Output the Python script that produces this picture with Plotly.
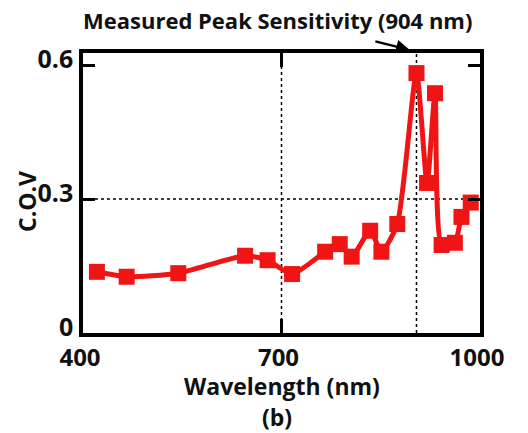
import plotly.graph_objects as go

wavelength = [421, 466, 544, 645, 679, 716, 766, 788, 806, 834, 851, 875,
              904, 920, 932, 942, 962, 972, 986]
cov = [0.137, 0.126, 0.134, 0.173, 0.163, 0.132, 0.182, 0.199, 0.171, 0.229,
       0.182, 0.244, 0.582, 0.336, 0.537, 0.197, 0.202, 0.260, 0.292]
x_ticks = [400, 700, 1000]
y_ticks = [0, 0.3, 0.6]
y_tick_text = ["0", "0.3", "0.6"]
peak_wavelength = 904
ref_wavelength = 700
ref_cov = 0.3

RED = "#f01414"
FONT = "Open Sans"

fig = go.Figure()
fig.add_trace(go.Scatter(
    x=wavelength, y=cov, mode="lines+markers",
    line=dict(color=RED, width=5, shape="spline", smoothing=0.6),
    marker=dict(symbol="square", size=16, color=RED),
    showlegend=False, cliponaxis=False,
))

# reference dashed lines
for xv in (ref_wavelength, peak_wavelength):
    fig.add_shape(type="line", xref="x", yref="paper", x0=xv, x1=xv, y0=0, y1=1,
                  line=dict(color="black", width=1.5, dash="dot"), layer="below")
fig.add_shape(type="line", xref="paper", yref="y", x0=0, x1=1, y0=ref_cov, y1=ref_cov,
              line=dict(color="black", width=1.5, dash="dot"), layer="below")

fig.update_xaxes(
    range=[400, 1000], tickvals=x_ticks, ticks="inside", ticklen=14, tickwidth=3,
    tickcolor="black", showline=True, linecolor="black", linewidth=3.5, mirror="ticks",
    showgrid=False, zeroline=False, ticklabelshift=-3, ticklabelstandoff=0,
    tickfont=dict(family=FONT, size=24, color="#111", weight="bold"),
)
fig.update_yaxes(
    range=[0, 0.627], tickvals=y_ticks, ticktext=y_tick_text, ticks="inside", ticklen=12,
    tickwidth=2.5, tickcolor="black", showline=True, linecolor="black", linewidth=3.5,
    mirror="ticks", showgrid=False, zeroline=False, ticklabelstandoff=1,
    ticklabelshift=-6,
    tickfont=dict(family=FONT, size=25, color="#111", weight="bold"),
)

def px_x(p):
    return (p - 83) / 397

def px_y(p):
    return (333 - p) / 280

fig.add_annotation(
    text="Measured Peak Sensitivity (904 nm)", xref="paper", yref="paper",
    x=px_x(277), y=px_y(20), xanchor="center", yanchor="middle", showarrow=False,
    font=dict(family=FONT, size=22, color="#111", weight="bold"),
)
fig.add_annotation(
    text="", xref="x", yref="paper", x=peak_wavelength - 10, y=px_y(50),
    showarrow=True, arrowhead=2, arrowsize=1.1, arrowwidth=2.5, arrowcolor="black",
    ax=-36, ay=-9,
)
fig.add_annotation(
    text="Wavelength (nm)", xref="paper", yref="paper",
    x=px_x(282), y=px_y(386), xanchor="center", yanchor="middle", showarrow=False,
    font=dict(family=FONT, size=23, color="#111", weight="bold"),
)
fig.add_annotation(
    text="(b)", xref="paper", yref="paper",
    x=px_x(277), y=px_y(417), xanchor="center", yanchor="middle", showarrow=False,
    font=dict(family=FONT, size=23, color="#111", weight="bold"),
)
fig.add_annotation(
    text="C.O.V", xref="paper", yref="paper", textangle=-90,
    x=px_x(27), y=px_y(202), xanchor="center", yanchor="middle", showarrow=False,
    font=dict(family=FONT, size=23, color="#111", weight="bold"),
)

fig.update_layout(
    width=528, height=433, margin=dict(l=83, r=48, t=53, b=100),
    plot_bgcolor="white", paper_bgcolor="white",
)
fig.write_html("out.html")
